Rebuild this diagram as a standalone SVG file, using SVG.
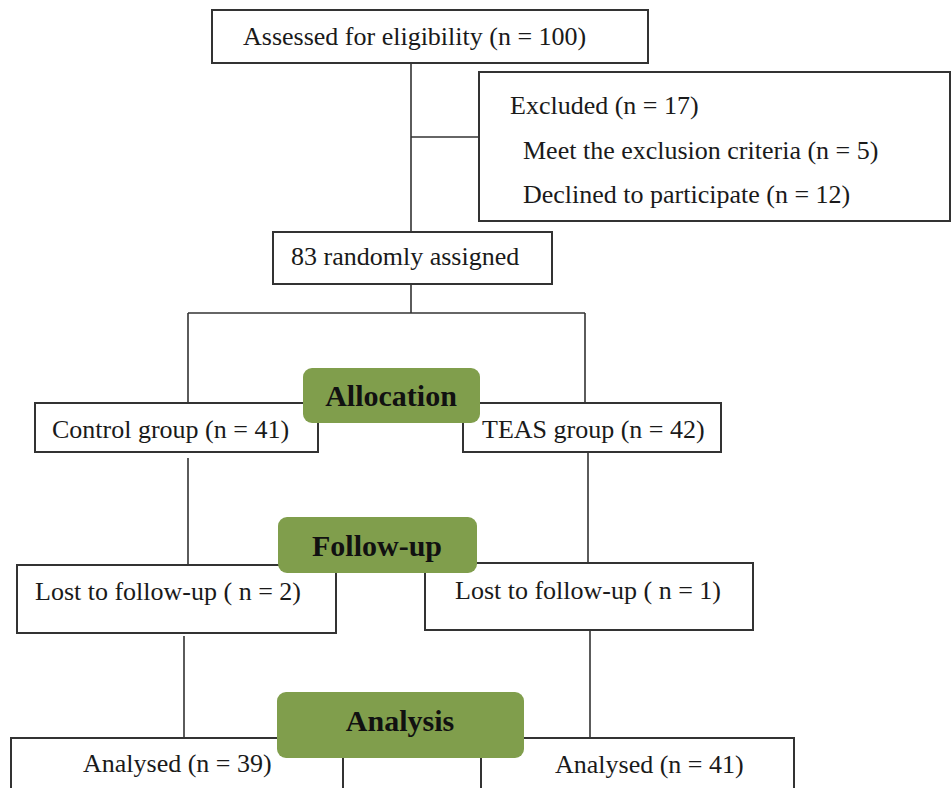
<svg xmlns="http://www.w3.org/2000/svg" width="952" height="788" viewBox="0 0 952 788">
<style>
  .box { fill: #ffffff; stroke: #333333; stroke-width: 2; }
  .lbl { fill: #809e4c; }
  .t { font-family: "Liberation Serif", "Times New Roman", serif; font-size: 26px; fill: #1a1a1a; }
  .b { font-family: "Liberation Serif", "Times New Roman", serif; font-size: 30px; font-weight: bold; fill: #111111; text-anchor: middle; }
  .ln { stroke: #333333; stroke-width: 1.6; fill: none; }
</style>
<rect width="952" height="788" fill="#ffffff"/>
<g id="connectors">
  <line class="ln" x1="411" y1="63" x2="411" y2="232"/>
  <line class="ln" x1="411" y1="137" x2="479" y2="137"/>
  <line class="ln" x1="411" y1="284" x2="411" y2="313"/>
  <line class="ln" x1="188" y1="313" x2="585" y2="313"/>
  <line class="ln" x1="188" y1="313" x2="188" y2="403"/>
  <line class="ln" x1="585" y1="313" x2="585" y2="403"/>
  <line class="ln" x1="188" y1="458" x2="188" y2="565"/>
  <line class="ln" x1="588" y1="452" x2="588" y2="563"/>
  <line class="ln" x1="184" y1="636" x2="184" y2="738"/>
  <line class="ln" x1="590" y1="630" x2="590" y2="738"/>
</g>
<g id="assessed">
  <rect class="box" x="212" y="10" width="436" height="53"/>
  <text class="t" x="243" y="45">Assessed for eligibility (n = 100)</text>
</g>
<g id="excluded">
  <rect class="box" x="479" y="72" width="471" height="149"/>
  <text class="t" x="510" y="114">Excluded (n = 17)</text>
  <text class="t" x="523" y="159">Meet the exclusion criteria (n = 5)</text>
  <text class="t" x="523" y="203">Declined to participate (n = 12)</text>
</g>
<g id="randomized">
  <rect class="box" x="273" y="232" width="279" height="52"/>
  <text class="t" x="291" y="265">83 randomly assigned</text>
</g>
<g id="control">
  <rect class="box" x="35" y="403" width="283" height="49"/>
  <text class="t" x="52" y="438">Control group (n = 41)</text>
</g>
<g id="teas">
  <rect class="box" x="463" y="403" width="258" height="49"/>
  <text class="t" x="482" y="438">TEAS group (n = 42)</text>
</g>
<g id="lost-control">
  <rect class="box" x="17" y="565" width="319" height="68"/>
  <text class="t" x="35" y="600">Lost to follow-up ( n = 2)</text>
</g>
<g id="lost-teas">
  <rect class="box" x="425" y="563" width="328" height="67"/>
  <text class="t" x="455" y="599">Lost to follow-up ( n = 1)</text>
</g>
<g id="analysed-control">
  <rect class="box" x="11" y="738" width="332" height="70"/>
  <text class="t" x="83" y="772">Analysed (n = 39)</text>
</g>
<g id="analysed-teas">
  <rect class="box" x="481" y="738" width="313" height="70"/>
  <text class="t" x="555" y="773">Analysed (n = 41)</text>
</g>
<g id="allocation">
  <rect class="lbl" x="303" y="368" width="177" height="55" rx="9"/>
  <text class="b" x="391" y="406">Allocation</text>
</g>
<g id="follow-up">
  <rect class="lbl" x="278" y="517" width="199" height="56" rx="9"/>
  <text class="b" x="377" y="556">Follow-up</text>
</g>
<g id="analysis">
  <rect class="lbl" x="277" y="692" width="247" height="66" rx="9"/>
  <text class="b" x="400" y="731">Analysis</text>
</g>
</svg>
